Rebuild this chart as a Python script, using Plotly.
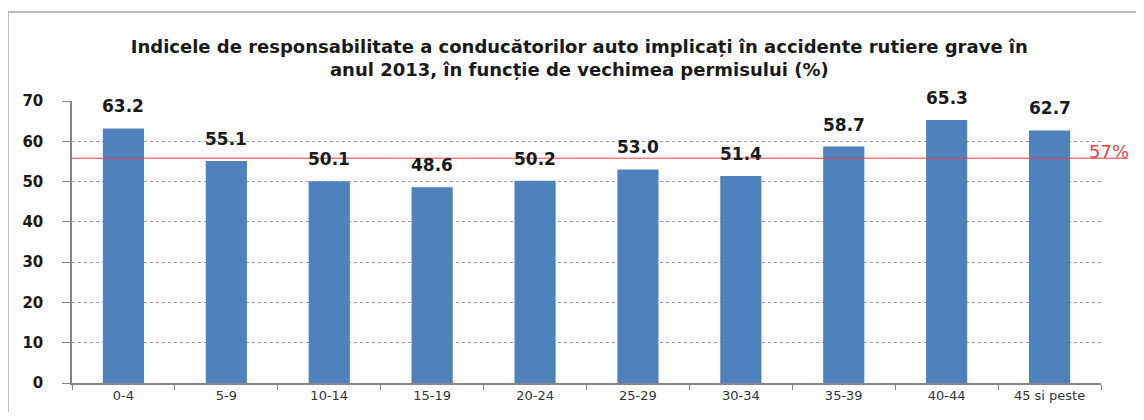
import plotly.graph_objects as go

categories = ["0-4", "5-9", "10-14", "15-19", "20-24", "25-29", "30-34", "35-39", "40-44", "45 si peste"]
values = [63.2, 55.1, 50.1, 48.6, 50.2, 53.0, 51.4, 58.7, 65.3, 62.7]
value_labels = ["63.2", "55.1", "50.1", "48.6", "50.2", "53.0", "51.4", "58.7", "65.3", "62.7"]
ref_level = 55.8
ref_label = "57%"
y_ticks = [0, 10, 20, 30, 40, 50, 60, 70]
title_text = ("Indicele de responsabilitate a conducătorilor auto implicați în accidente rutiere grave în<br>"
              "anul 2013, în funcție de vechimea permisului (%)")

# page is offset by the 8px body margin
OFF = 8
W, H = 1128, 404
plot_left, plot_right, plot_top, plot_bottom = 72, 1101, 101, 383  # page pixels
ml = plot_left - OFF
mr = (W + OFF) - plot_right
mt = plot_top - OFF
mb = (H + OFF) - plot_bottom
pw = plot_right - plot_left
ph = plot_bottom - plot_top

def pxx(px):
    return (px - plot_left) / pw

def pxy(py):
    return (plot_bottom - py) / ph

fig = go.Figure()
fig.add_trace(go.Bar(
    x=categories, y=values,
    marker=dict(color="#4F81BD", line=dict(width=0)),
    hoverinfo="x+y",
))

annotations = []
for c, v, t in zip(categories, values, value_labels):
    annotations.append(dict(x=c, y=v, text=t, xref="x", yref="y", showarrow=False,
                            yanchor="bottom", xanchor="center", yshift=10,
                            font=dict(family="DejaVu Sans", size=17, color="#1a1a1a", weight="bold")))
annotations.append(dict(text=ref_label, xref="paper", yref="paper",
                        x=pxx(1087), y=pxy(151), xanchor="left", yanchor="middle",
                        showarrow=False, font=dict(family="DejaVu Sans", size=18, color="#E8414B")))

shapes = [
    dict(type="rect", xref="paper", yref="paper",
         x0=pxx(8), x1=pxx(1170), y0=pxy(440), y1=pxy(12),
         line=dict(color="#A6A6A6", width=1.5), fillcolor="rgba(0,0,0,0)", layer="below"),
    dict(type="line", xref="paper", yref="y", x0=0, x1=pxx(1128),
         y0=ref_level, y1=ref_level, line=dict(color="#E8414B", width=1)),
]

fig.update_layout(
    width=W, height=H,
    margin=dict(l=ml, r=mr, t=mt, b=mb, autoexpand=False),
    paper_bgcolor="white", plot_bgcolor="white",
    bargap=0.6, showlegend=False,
    title=dict(text=title_text, x=0.493, xref="paper", xanchor="center",
               y=1 - (53 - OFF) / H, yanchor="middle",
               font=dict(family="DejaVu Sans", size=18, color="#1a1a1a", weight="bold")),
    shapes=shapes,
    annotations=annotations,
    xaxis=dict(showline=True, linecolor="#868686", linewidth=1.5,
               ticks="outside", tickson="boundaries", ticklen=5, tickcolor="#868686",
               tickfont=dict(family="DejaVu Sans", size=13, color="#333333"),
               showgrid=False, fixedrange=True),
    yaxis=dict(range=[0, 70], tickvals=y_ticks, showline=True, linecolor="#868686", linewidth=1.5,
               ticks="outside", ticklen=8, tickcolor="#868686",
               tickfont=dict(family="DejaVu Sans", size=15, color="#1a1a1a", weight="bold"),
               ticklabelstandoff=16,
               showgrid=True, gridcolor="#a0a0a0", griddash="dot", gridwidth=1,
               zeroline=False),
)

fig.write_html("out.html")
